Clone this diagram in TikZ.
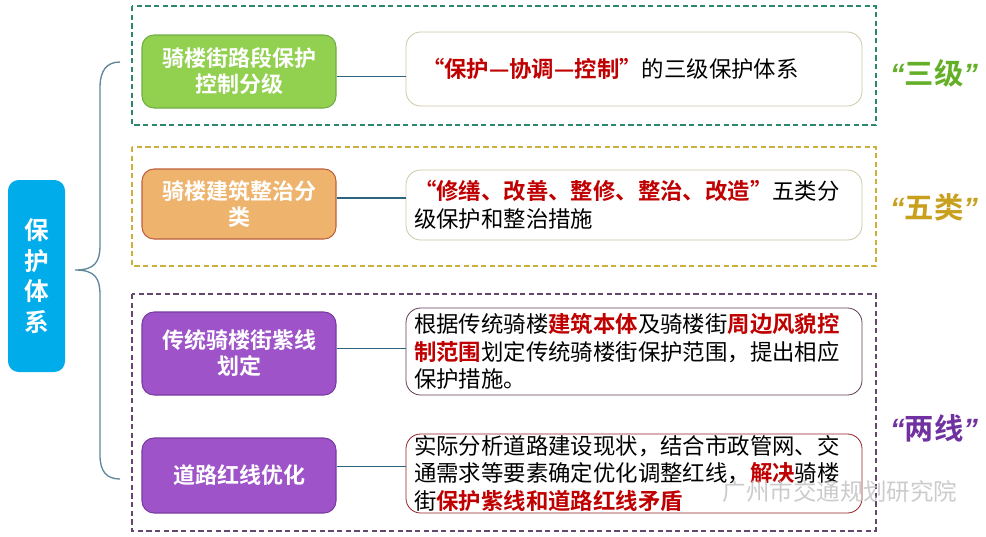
\documentclass[tikz,border=0pt]{standalone}
\usepackage{fontspec}
\setmainfont{Noto Sans CJK SC}[BoldFont={Noto Sans CJK SC Bold}]
\newfontfamily\qfont{Liberation Sans}

\definecolor{rootblue}{RGB}{0,172,234}
\definecolor{grfill}{RGB}{146,208,80}
\definecolor{grline}{RGB}{112,173,71}
\definecolor{orfill}{RGB}{238,180,110}
\definecolor{orline}{RGB}{190,95,60}
\definecolor{pufill}{RGB}{158,84,200}
\definecolor{puline}{RGB}{120,60,160}
\definecolor{hired}{RGB}{192,0,0}
\definecolor{khaki}{RGB}{205,200,165}
\definecolor{boxpu}{RGB}{95,60,85}
\definecolor{boxred}{RGB}{150,35,40}
\definecolor{linkcol}{RGB}{45,100,125}
\definecolor{bracecol}{RGB}{95,135,155}
\definecolor{frteal}{RGB}{45,135,110}
\definecolor{frgold}{RGB}{205,175,60}
\definecolor{frpu}{RGB}{100,70,110}
\definecolor{taggreen}{RGB}{100,175,40}
\definecolor{taggold}{RGB}{200,160,30}
\definecolor{tagpu}{RGB}{112,50,160}

\newcommand\redb[1]{\textcolor{hired}{\bfseries #1}}
\newcommand\quoted[1]{{\qfont\itshape “}#1{\qfont\itshape ”}}

\tikzset{
  frame/.style={line width=1.2pt, dash pattern=on 4pt off 2.5pt},
  title/.style={rounded corners=9pt, draw, line width=0.8pt, text=white, align=center,
    font=\fontsize{16.5}{19.5}\selectfont\bfseries, minimum width=145.5pt, inner sep=0pt},
  textbox/.style={rounded corners=11pt, draw, line width=0.6pt, fill=white, align=left,
    font=\fontsize{16.8}{20.6}\selectfont, text width=330pt, inner xsep=6pt, inner ysep=0pt},
  tag/.style={font=\fontsize{22}{22}\selectfont\bfseries, inner sep=0pt},
  link/.style={draw=linkcol, line width=0.9pt}
}

\begin{document}
\begin{tikzpicture}[x=0.75pt,y=-0.75pt]
\useasboundingbox (0,0) rectangle (986,536);

\draw[frame, draw=frteal] (132,6) rectangle (876,125);
\draw[frame, draw=frgold] (132,147) rectangle (876,266);
\draw[frame, draw=frpu] (132,294) rectangle (876,531);

\node[rounded corners=8pt, fill=rootblue, text=white, align=center, inner sep=0pt,
  minimum width=42.75pt, minimum height=144pt,
  font=\fontsize{18.5}{23}\selectfont\bfseries] (root) at (36.5,276) {保\\护\\体\\系};

\node[title, fill=grfill, draw=grline, minimum height=54.75pt] (n1) at (239,71.5) {骑楼街路段保护\\控制分级};
\node[title, fill=orfill, draw=orline, minimum height=52.5pt] (n2) at (239,204) {骑楼建筑整治分\\类};
\node[title, fill=pufill, draw=puline, minimum height=62.25pt] (n3) at (239,353.5) {传统骑楼街紫线\\划定};
\node[title, fill=pufill, draw=puline, minimum height=56.25pt] (n4) at (239,475.5) {道路红线优化};

\node[textbox, draw=khaki, minimum height=55.5pt, inner xsep=12pt, text width=318pt] (b1) at (634,69)
  {\redb{“保护—协调—控制”}的三级保护体系};
\node[textbox, draw=khaki, minimum height=52.5pt] (b2) at (634,205)
  {\redb{“修缮、改善、整修、整治、改造”}五类分\\级保护和整治措施};
\node[textbox, draw=boxpu, minimum height=65.25pt] (b3) at (634,351.5)
  {根据传统骑楼\redb{建筑本体}及骑楼街\redb{周边风貌控}\\\redb{制范围}划定传统骑楼街保护范围，提出相应\\保护措施。};
\node[textbox, draw=boxred, minimum height=59.25pt] (b4) at (634,473.5)
  {实际分析道路建设现状，结合市政管网、交\\通需求等要素确定优化调整红线，\redb{解决}骑楼\\街\redb{保护紫线和道路红线矛盾}};

\draw[link] ([yshift=-4pt]n1.east) -- ([yshift=-4pt]n1.east -| b1.west);
\draw[link] ([yshift=4.5pt]n2.east) -- ([yshift=4.5pt]n2.east -| b2.west);
\draw[link] ([yshift=4pt]n3.east) -- ([yshift=4pt]n3.east -| b3.west);
\draw[link] ([yshift=7pt]n4.east) -- ([yshift=7pt]n4.east -| b4.west);

\coordinate (tip) at (75,270);
\coordinate (btop) at (120,62);
\coordinate (bbot) at (120,479);
\draw[draw=bracecol, line width=1pt] (btop) .. controls (107,62) and (100,70) .. (100,88)
  -- (100,245) .. controls (100,262) and (95,270) .. (tip)
  .. controls (95,270) and (100,278) .. (100,295)
  -- (100,455) .. controls (100,472) and (107,479) .. (bbot);

\node[tag, text=taggreen] (t1) at (934,73) {\quoted{三级}};
\node[tag, text=taggold] (t2) at (934,207) {\quoted{五类}};
\node[tag, text=tagpu] (t3) at (934,428) {\quoted{两线}};

\node[text=gray!50, font=\fontsize{17.6}{17.6}\selectfont, opacity=0.8] (wm) at (840,492) {广州市交通规划研究院};

\end{tikzpicture}
\end{document}
